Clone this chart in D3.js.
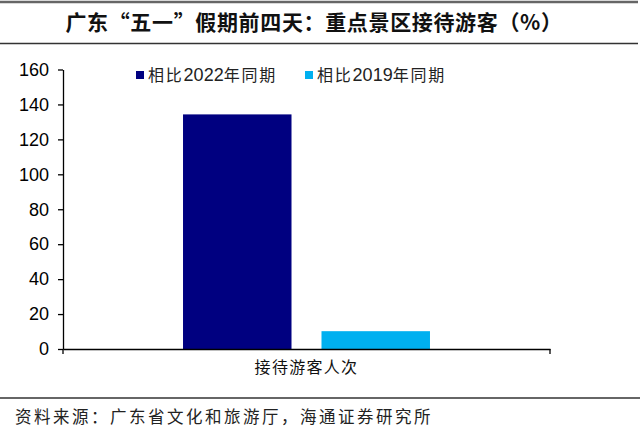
<!DOCTYPE html>
<html><head><meta charset="utf-8">
<script src="https://cdn.jsdelivr.net/npm/d3@7"></script>
<style>body{margin:0;background:#fff}svg{display:block}</style>
</head><body>
<script>
const categories = ["接待游客人次"];
const seriesNames = ["相比2022年同期", "相比2019年同期"];
const series2022 = [134.3];
const series2019 = [10.2];
const yTicks = [0, 20, 40, 60, 80, 100, 120, 140, 160];
const colors = ["#000080", "#00B0F0"];
const titleText = "广东“五一”假期前四天：重点景区接待游客（%）";
const sourceText = "资料来源：广东省文化和旅游厅，海通证券研究所";

(function () {
const W = 640, H = 434;
const svg = d3.select("body").append("svg").attr("width", W).attr("height", H);
const cjk = "'Noto Sans CJK SC', sans-serif";
const latin = "'Liberation Sans', Arial, sans-serif";

svg.append("line").attr("x1", 0).attr("x2", 638).attr("y1", 2).attr("y2", 2)
  .attr("stroke", "#666").attr("stroke-width", 2.5);
svg.append("text").attr("x", 314).attr("y", 30).attr("text-anchor", "middle")
  .attr("font-family", cjk).attr("font-weight", "bold").attr("font-size", 21)
  .attr("letter-spacing", 0.65)
  .attr("fill", "#111").text(titleText);
svg.append("line").attr("x1", 0).attr("x2", 638).attr("y1", 43.5).attr("y2", 43.5)
  .attr("stroke", "#333").attr("stroke-width", 1.5);

const mLeft = 63, mRight = 550, mTop = 69.5, mBottom = 349;
const y = d3.scaleLinear().domain([0, 160]).range([mBottom, mTop]);
const x0 = d3.scaleBand().domain(categories).range([mLeft, mRight]).paddingInner(0).paddingOuter(0.486);
const x1 = d3.scaleBand().domain(seriesNames).range([0, x0.bandwidth()]).paddingInner(0.2166).paddingOuter(0);

const data = categories.map((c, i) => ({cat: c, vals: [series2022[i], series2019[i]]}));
const g = svg.append("g");
data.forEach(d => {
  d.vals.forEach((v, j) => {
    g.append("rect")
      .attr("x", x0(d.cat) + x1(seriesNames[j]))
      .attr("y", y(v))
      .attr("width", x1.bandwidth())
      .attr("height", y(0) - y(v))
      .attr("fill", colors[j]);
  });
});

const yAxis = svg.append("g").attr("transform", `translate(${mLeft},0)`)
  .call(d3.axisLeft(y).tickValues(yTicks).tickSize(5).tickSizeOuter(0).tickPadding(9));
yAxis.select(".domain").attr("stroke", "#000").attr("stroke-width", 1.3);
yAxis.selectAll(".tick line").attr("stroke", "#000").attr("stroke-width", 1.3);
yAxis.selectAll("text").attr("font-family", latin)
  .attr("font-size", 18).attr("fill", "#000");

const xAxis = svg.append("g").attr("transform", `translate(0,${mBottom})`)
  .call(d3.axisBottom(x0).tickSize(0).tickSizeOuter(0).tickPadding(13));
xAxis.select(".domain").attr("stroke", "#000").attr("stroke-width", 1.3);
xAxis.selectAll("text").attr("font-family", cjk).attr("font-size", 16)
  .attr("letter-spacing", 1.3).attr("fill", "#111");
[mLeft, mRight].forEach(px => {
  xAxis.append("line").attr("x1", px).attr("x2", px).attr("y1", 0).attr("y2", 5)
    .attr("stroke", "#000").attr("stroke-width", 1.3);
});

const legendX = [136, 305];
seriesNames.forEach((s, j) => {
  const lg = svg.append("g").attr("transform", `translate(${legendX[j]},75)`);
  lg.append("rect").attr("x", 0).attr("y", -4).attr("width", 8).attr("height", 8).attr("fill", colors[j]);
  const t = lg.append("text").attr("x", 12).attr("y", 0).attr("dy", "0.36em").attr("fill", "#222");
  s.split(/(\d+)/).filter(p => p.length).forEach(p => {
    const isNum = /^\d+$/.test(p);
    t.append("tspan").text(p)
      .attr("font-family", isNum ? latin : cjk)
      .attr("font-size", isNum ? 18 : 16)
      .attr("letter-spacing", isNum ? 0 : 1.8);
  });
});

svg.append("line").attr("x1", 0).attr("x2", 640).attr("y1", 398).attr("y2", 398)
  .attr("stroke", "#333").attr("stroke-width", 1.5);
svg.append("text").attr("x", 15).attr("y", 417).attr("dy", "0.36em")
  .attr("font-family", cjk).attr("font-size", 16.5).attr("letter-spacing", 2.5)
  .attr("fill", "#222").text(sourceText);
})();
</script>
</body></html>
